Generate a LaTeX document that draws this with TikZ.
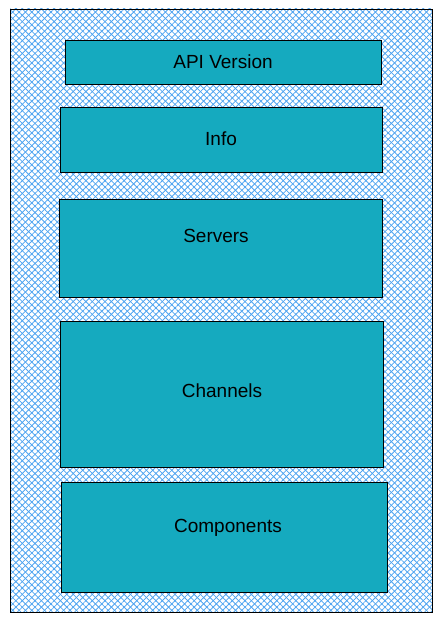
\documentclass[tikz,border=0pt]{standalone}
\usepackage{fontspec}
\setmainfont{Liberation Sans}
\usetikzlibrary{patterns.meta}

\definecolor{boxfill}{HTML}{15AABF}
\definecolor{hatchblue}{HTML}{4DA3F0}

\tikzset{
    section/.style={draw=black, thick, fill=boxfill},
    sectionlabel/.style={font=\fontsize{19}{22}\selectfont}
}

\begin{document}
\begin{tikzpicture}[x=1pt, y=-1pt]
    \useasboundingbox (0,0) rectangle (442,623);

    % Outer hatched frame
    \fill[pattern={Lines[angle=45,distance=4.5pt,line width=0.8pt]}, pattern color=hatchblue] (10,9) rectangle (432,612);
    \fill[pattern={Lines[angle=-45,distance=4.5pt,line width=0.8pt]}, pattern color=hatchblue] (10,9) rectangle (432,612);
    \draw[thick] (10,9) rectangle (432,612);

    % Sections
    \draw[section] (65,40) rectangle (381,84);
    \draw[section] (60,107) rectangle (382,172);
    \draw[section] (59,199) rectangle (382,297);
    \draw[section] (60,321) rectangle (383,467);
    \draw[section] (61,482) rectangle (387,592);

    % Section labels
    \node[sectionlabel] (apiversion) at (223,62) {API Version};
    \node[sectionlabel] (info) at (221,139) {Info};
    \node[sectionlabel] (servers) at (216,236) {Servers};
    \node[sectionlabel] (channels) at (222,391) {Channels};
    \node[sectionlabel] (components) at (228,528) {Components};
\end{tikzpicture}
\end{document}
